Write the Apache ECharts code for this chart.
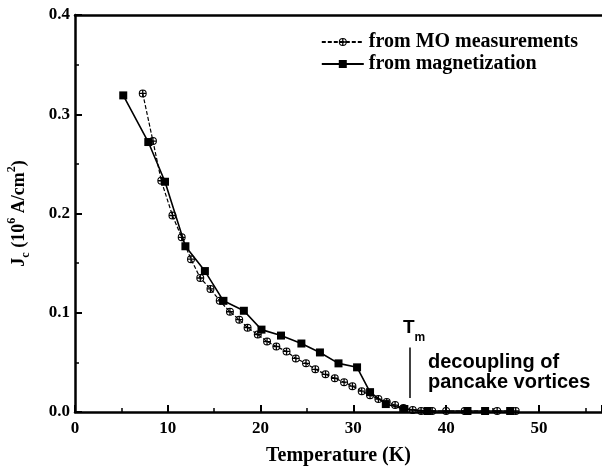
<!DOCTYPE html>
<html>
<head>
<meta charset="utf-8">
<script src="https://cdn.jsdelivr.net/npm/echarts@6/dist/echarts.min.js"></script>
<style>
  html, body { margin: 0; padding: 0; background: #fff; }
  #chart { width: 602px; height: 469px; }
</style>
</head>
<body>
<div id="chart"></div>
<script>
// from MO measurements
const tempMO = [7.3, 8.4, 9.3, 10.5, 11.5, 12.5, 13.5, 14.6, 15.6, 16.7, 17.7, 18.6, 19.7, 20.7, 21.7, 22.8, 23.8, 24.9, 25.9, 27.0, 28.0, 29.0, 29.9, 30.9, 31.8, 32.7, 33.6, 34.5, 35.4, 36.4, 37.3, 38.5, 40.0, 42.0, 45.5, 47.5]
const jcMO = [0.321, 0.273, 0.233, 0.198, 0.176, 0.154, 0.135, 0.124, 0.112, 0.101, 0.093, 0.085, 0.078, 0.071, 0.066, 0.061, 0.054, 0.049, 0.043, 0.038, 0.034, 0.030, 0.026, 0.021, 0.017, 0.013, 0.010, 0.007, 0.004, 0.002, 0.001, 0.001, 0.001, 0.001, 0.001, 0.001]

// from magnetization
const tempMag = [5.2, 7.9, 9.7, 11.9, 14.0, 16.0, 18.2, 20.1, 22.2, 24.4, 26.4, 28.4, 30.4, 31.8, 33.5, 35.5, 38.0, 42.3, 44.2, 46.9]
const jcMag = [0.319, 0.272, 0.232, 0.167, 0.142, 0.112, 0.102, 0.083, 0.077, 0.069, 0.060, 0.049, 0.045, 0.020, 0.008, 0.003, 0.001, 0.001, 0.001, 0.001]

const xTicks = [0, 10, 20, 30, 40, 50]

const serif = 'Liberation Serif'
const sans = 'Liberation Sans'

// crossed circle marker
const crossCircle = 'path://M10,0A10,10 0 1 1 -10,0A10,10 0 1 1 10,0Z' +
  'M7.5,0A7.5,7.5 0 1 0 -7.5,0A7.5,7.5 0 1 0 7.5,0Z' +
  'M-1.6,-7.5H1.6V7.5H-1.6Z M-7.5,-1.6H7.5V1.6H-7.5Z'

const chart = echarts.init(document.getElementById('chart'))

const option = {
  animation: false,
  backgroundColor: '#fff',
  grid: { left: 75, top: 15, right: 0, bottom: 57, containLabel: false, outerBoundsMode: 'none' },
  legend: {
    right: 19,
    top: 27,
    orient: 'vertical',
    itemWidth: 42,
    itemHeight: 10,
    itemGap: 2,
    textStyle: { fontFamily: serif, fontWeight: 'bold', fontSize: 20, color: '#000' },
    data: ['from MO measurements', 'from magnetization']
  },
  xAxis: [
    {
      type: 'value',
      min: 0,
      max: 56.8,
      interval: 10,
      name: 'Temperature (K)',
      nameLocation: 'middle',
      nameGap: 34,
      nameTextStyle: { fontFamily: serif, fontWeight: 'bold', fontSize: 20, color: '#000' },
      axisLine: { lineStyle: { color: '#000', width: 2.5 } },
      axisTick: { inside: true, length: 7, lineStyle: { color: '#000', width: 2 } },
      minorTick: { show: true, splitNumber: 2, length: 4, lineStyle: { color: '#000', width: 1.5 } },
      axisLabel: {
        showMaxLabel: false,
        margin: 8,
        fontFamily: serif, fontWeight: 'bold', fontSize: 17, color: '#000',
        formatter: v => xTicks.includes(v) ? String(v) : ''
      },
      splitLine: { show: false }
    },
    {
      type: 'value',
      position: 'top',
      min: 0,
      max: 56.8,
      axisLine: { show: true, lineStyle: { color: '#000', width: 2.5 } },
      axisTick: { show: false },
      axisLabel: { show: false },
      splitLine: { show: false }
    }
  ],
  yAxis: {
    type: 'value',
    min: 0,
    max: 0.4,
    interval: 0.1,
    name: '{n|J}{sub|c}{n| (10}{sup|6}{n| A/cm}{sup|2}{n|)}',
    nameLocation: 'middle',
    nameGap: 43,
    nameTextStyle: {
      rich: {
        n: { fontFamily: serif, fontWeight: 'bold', fontSize: 18, color: '#000', lineHeight: 26, verticalAlign: 'middle' },
        sub: { fontFamily: serif, fontWeight: 'bold', fontSize: 12, color: '#000', lineHeight: 26, verticalAlign: 'bottom' },
        sup: { fontFamily: serif, fontWeight: 'bold', fontSize: 12, color: '#000', lineHeight: 26, verticalAlign: 'top' }
      }
    },
    axisLine: { show: true, lineStyle: { color: '#000', width: 2.5 } },
    axisTick: { inside: true, length: 7, lineStyle: { color: '#000', width: 2 } },
    minorTick: { show: true, splitNumber: 2, length: 4, lineStyle: { color: '#000', width: 1.5 } },
    axisLabel: {
      margin: 5,
      fontFamily: serif, fontWeight: 'bold', fontSize: 17, color: '#000',
      formatter: v => v.toFixed(1)
    },
    splitLine: { show: false }
  },
  series: [
    {
      name: 'from MO measurements',
      type: 'line',
      data: tempMO.map((t, i) => [t, jcMO[i]]),
      symbol: crossCircle,
      symbolSize: 8,
      symbolKeepAspect: true,
      itemStyle: { color: '#000' },
      lineStyle: { color: '#000', width: 1.2, type: [4, 2] },
      markLine: {
        silent: true,
        symbol: ['none', 'arrow'],
        symbolSize: [0, 9],
        label: { show: false },
        lineStyle: { color: '#000', width: 1.5, type: 'solid' },
        data: [[{ coord: [36.1, 0.065] }, { coord: [36.1, 0.014] }]]
      }
    },
    {
      name: 'from magnetization',
      type: 'line',
      data: tempMag.map((t, i) => [t, jcMag[i]]),
      symbol: 'rect',
      symbolSize: 8,
      itemStyle: { color: '#000' },
      lineStyle: { color: '#000', width: 1.6 }
    }
  ],
  graphic: [
    {
      type: 'text',
      left: 403,
      top: 318,
      style: {
        text: '{t|T}{m|m}',
        rich: {
          t: { fontFamily: sans, fontWeight: 'bold', fontSize: 19, fill: '#000', lineHeight: 26, verticalAlign: 'top' },
          m: { fontFamily: sans, fontWeight: 'bold', fontSize: 12, fill: '#000', lineHeight: 26, verticalAlign: 'bottom' }
        }
      }
    },
    {
      type: 'text',
      left: 428,
      top: 352,
      style: {
        text: 'decoupling of\npancake vortices',
        fontFamily: sans, fontWeight: 'bold', fontSize: 20, lineHeight: 20, fill: '#000'
      }
    }
  ]
}

chart.setOption(option)
</script>
</body>
</html>
